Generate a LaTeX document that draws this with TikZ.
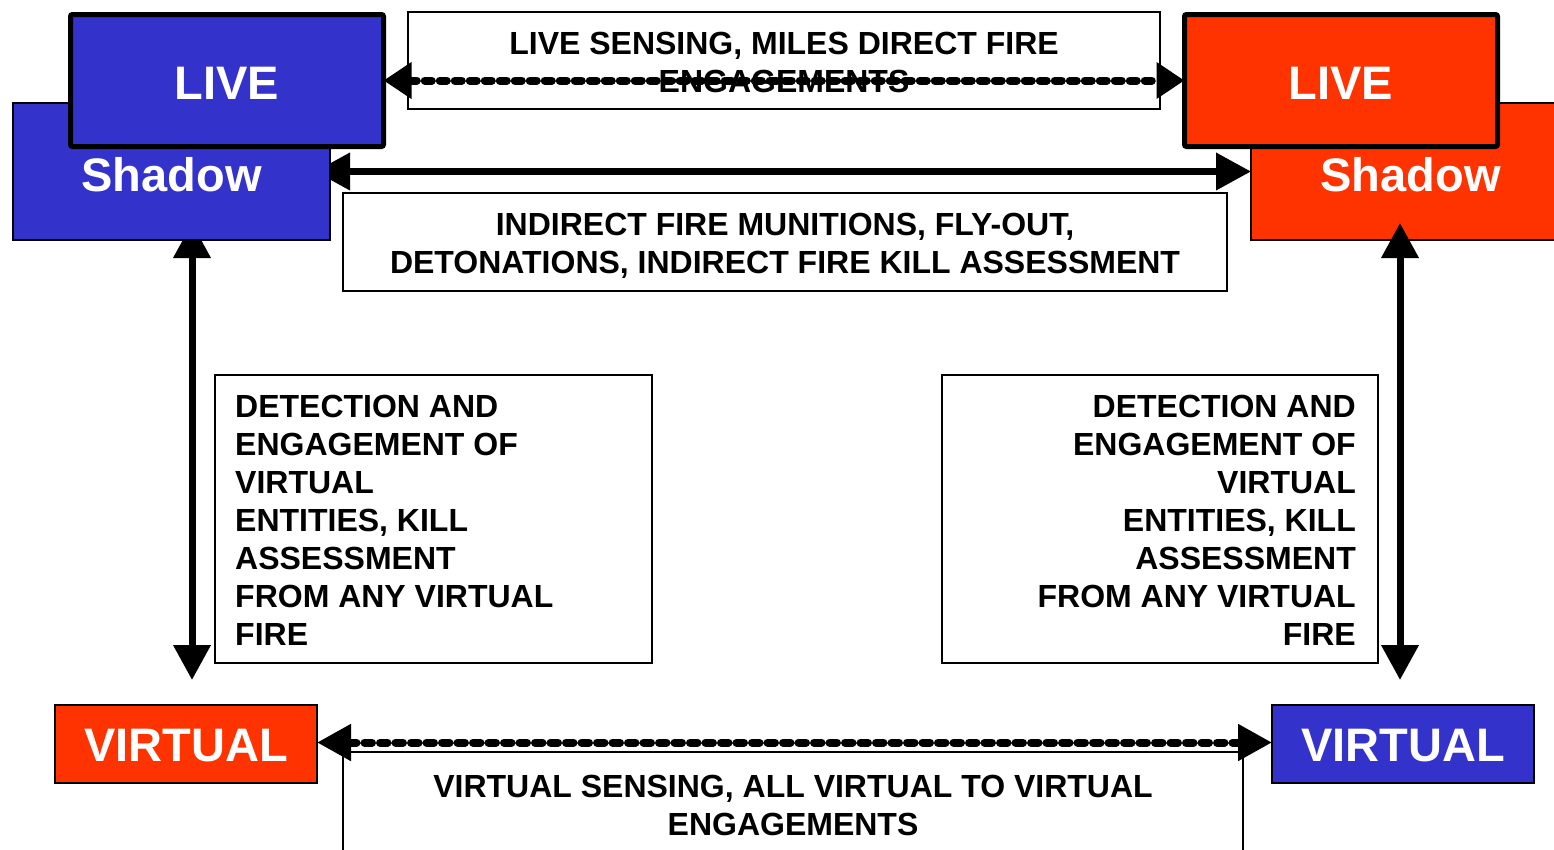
\documentclass[tikz,border=0pt]{standalone}
\usepackage{fontspec}
\setmainfont{Liberation Sans}
\usetikzlibrary{arrows.meta}
\definecolor{myblue}{HTML}{3333CC}
\definecolor{myred}{HTML}{FF3300}
\begin{document}
\begin{tikzpicture}[x=1pt,y=-1pt,
  livebox/.style={draw=black, line width=5pt, rounded corners=2pt, inner sep=0pt, outer sep=0pt,
     minimum width=313pt, minimum height=132pt, text=white, font=\fontsize{47}{50}\selectfont\bfseries,
     text height=37.3pt, text depth=0pt},
  colbox/.style={draw=black, line width=2pt, inner sep=0pt, outer sep=0pt, text=white,
     font=\fontsize{47}{50}\selectfont\bfseries, text depth=0pt},
  txtbox/.style={draw=black, line width=2pt, fill=white, inner sep=0pt, outer sep=0pt},
  lbl/.style={inner sep=0pt, font=\fontsize{32}{38}\selectfont\bfseries},
  dasharrow/.style={line width=8pt, line cap=round, dash pattern=on 7pt off 8pt,
     {Triangle[length=28pt,width=35pt]}-{Triangle[length=28pt,width=35pt]}},
  dasharrowb/.style={line width=8pt, line cap=round, dash pattern=on 7.5pt off 8pt,
     {Triangle[length=34pt,width=35pt]}-{Triangle[length=34pt,width=35pt]}},
  solidarrow/.style={line width=7pt,
     {Triangle[length=35pt,width=36pt]}-{Triangle[length=35pt,width=36pt]}}
]
\useasboundingbox (0,0) rectangle (1554,849);
\clip (0,0) rectangle (1554,849);

% right-hand boxes (under the arrows)
\node[colbox, fill=myred, minimum width=319pt, minimum height=137pt, text height=39.3pt] (ShadowR) at (1410.5,171.5) {Shadow};
\node[livebox, fill=myred] (LiveR) at (1341,80.5) {LIVE};

% text boxes
\node[txtbox, minimum width=752pt, minimum height=97pt] (TopBox) at (784,60.5) {};
\node[lbl, align=center] (TopTxt) at (784,62.5) {LIVE SENSING, MILES DIRECT FIRE\\ENGAGEMENTS};
\node[txtbox, minimum width=884pt, minimum height=98pt] (MidBox) at (785,242) {};
\node[lbl, align=center] (MidTxt) at (785,246) {INDIRECT FIRE MUNITIONS, FLY-OUT,\\DETONATIONS, INDIRECT FIRE KILL ASSESSMENT};
\node[txtbox, minimum width=437pt, minimum height=288pt] (DetL) at (433.5,519) {};
\node[lbl, align=left, anchor=west] (DetLTxt) at (235,520.5) {DETECTION AND\\ENGAGEMENT OF\\VIRTUAL\\ENTITIES, KILL\\ASSESSMENT\\FROM ANY VIRTUAL\\FIRE};
\node[txtbox, minimum width=436pt, minimum height=288pt] (DetR) at (1160,519) {};
\node[lbl, align=right, anchor=east] (DetRTxt) at (1356,520.5) {DETECTION AND\\ENGAGEMENT OF\\VIRTUAL\\ENTITIES, KILL\\ASSESSMENT\\FROM ANY VIRTUAL\\FIRE};
\node[txtbox, minimum width=900pt, minimum height=160pt] (BotBox) at (793,832) {};
\node[lbl, align=center] (BotTxt) at (793,805) {VIRTUAL SENSING, ALL VIRTUAL TO VIRTUAL\\ENGAGEMENTS};

% VIRTUAL boxes
\node[colbox, fill=myred, minimum width=262pt, minimum height=78pt, text height=34.3pt] (VirtL) at (186,744) {VIRTUAL};
\node[colbox, fill=myblue, minimum width=262pt, minimum height=78pt, text height=34.3pt] (VirtR) at (1403,744) {VIRTUAL};

% free ends of the arrows
\coordinate (vLtop) at (192,223);
\coordinate (vLbot) at (192,680);
\coordinate (vRtop) at (1400,223);
\coordinate (vRbot) at (1400,680);
\coordinate (sLend) at (315,171.5);

% arrows
\draw[solidarrow] (sLend) -- (ShadowR.west);
\draw[solidarrow] (vLtop) -- (vLbot);
\draw[solidarrow] (vRtop) -- (vRbot);
\draw[dasharrowb] ([yshift=1.5pt]VirtL.east) -- ([yshift=1.5pt]VirtR.west);

% left-hand boxes (over the arrows)
\node[colbox, fill=myblue, minimum width=317pt, minimum height=137pt, text height=39.3pt] (ShadowL) at (171.5,171.5) {Shadow};
\node[livebox, fill=myblue] (LiveL) at (227,80.5) {LIVE};

\draw[dasharrow] (LiveL.east) -- (LiveR.west);
\end{tikzpicture}
\end{document}
